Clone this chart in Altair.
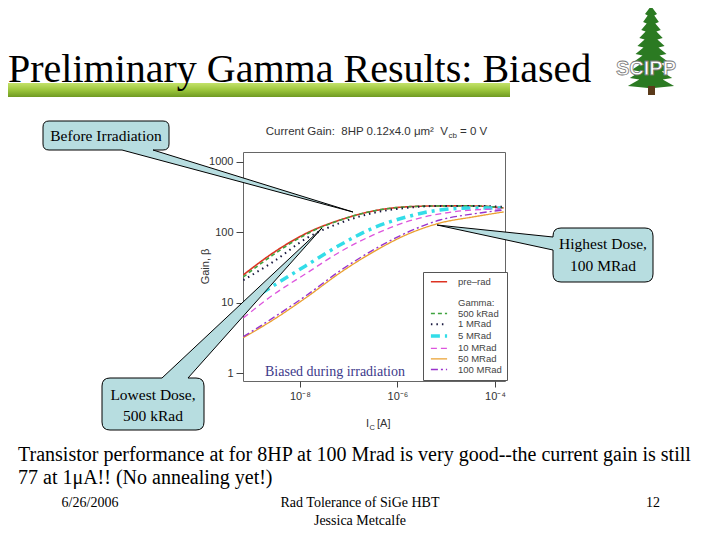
import altair as alt
import pandas as pd

# ---------------- data ----------------
ic_amps = [6.9e-10, 2.8e-9, 1.4e-8, 6.6e-8, 3.2e-7, 1.5e-6, 7.4e-6, 3.6e-5, 1.5e-4]
gain_pre_rad = [24.8, 50.8, 97.7, 149, 200, 229, 236, 236, 221]
gain_500k = [23.2, 47.7, 95, 148, 200, 229, 236, 236, 222]
gain_1M = [21.0, 37.9, 83, 135, 188, 221, 236, 236, 229]
gain_5M = [9.3, 17.3, 34.4, 65.9, 115, 164, 207, 221, 221]
gain_10M = [6.1, 12.9, 26.5, 52.6, 91.6, 140, 182, 207, 214]
gain_50M = [3.2, 5.7, 12.1, 26.5, 52.6, 91.6, 135, 165, 194]
gain_100M = [3.3, 6.1, 12.9, 28.3, 56.1, 97.7, 149, 182, 207]

series_names = ["pre–rad", "500 kRad", "1 MRad", "5 MRad", "10 MRad", "50 MRad", "100 MRad"]
series_values = [gain_pre_rad, gain_500k, gain_1M, gain_5M, gain_10M, gain_50M, gain_100M]
legend_entries = ["pre–rad", " ", "Gamma:", "500 kRad", "1 MRad", "5 MRad",
                  "10 MRad", "50 MRad", "100 MRad"]
x_ticks = [1e-8, 1e-6, 1e-4]
y_ticks = [1, 10, 100, 1000]

# ---------------- styles ----------------
colors = ["#dd3322", "transparent", "transparent", "#3fa33f", "#1a1a40", "#33dde8",
          "#dd55dd", "#eaa030", "#9933cc"]
dashes = [[1, 0], [1, 0], [1, 0], [4, 3], [1.5, 4], [9, 5, 3, 5], [6, 4], [1, 0], [7, 3, 2, 3]]
widths = [1.6, 0, 0, 1.6, 2, 3.5, 1.3, 1.3, 1.4]

rows = []
for name, vals in zip(series_names, series_values):
    for x, g in zip(ic_amps, vals):
        rows.append({"ic": x, "gain": g, "series": name})
df = pd.DataFrame(rows)
one = pd.DataFrame({"k": [0]})

OX, OY = 243, 152          # plot-area origin on the page
W, H = 262, 229
SERIF = "Liberation Serif, Times New Roman, serif"
SANS = "Liberation Sans, Arial, sans-serif"


def px(X):
    return X - OX


def py(Y):
    return Y - OY


def txt(s, X, Y, size, font=SERIF, color="black", align="left", baseline="middle", weight="normal", **kw):
    return alt.Chart(one).mark_text(text=s, font=font, fontSize=size, color=color, align=align,
                                    baseline=baseline, fontWeight=weight, **kw).encode(
        x=alt.value(px(X)), y=alt.value(py(Y)))


def P(x, y):
    return f"{x - OX:.1f} {y - OY:.1f}"


def callout_path(x0, y0, x1, y1, r, side, b1, b2, tip):
    tx, ty = tip
    p = f"M {P(x0 + r, y0)} "
    if side == "top":
        p += f"L {P(b1, y0)} L {P(tx, ty)} L {P(b2, y0)} "
    p += f"L {P(x1 - r, y0)} Q {P(x1, y0)} {P(x1, y0 + r)} "
    if side == "right":
        p += f"L {P(x1, b1)} L {P(tx, ty)} L {P(x1, b2)} "
    p += f"L {P(x1, y1 - r)} Q {P(x1, y1)} {P(x1 - r, y1)} "
    if side == "bottom":
        p += f"L {P(b2, y1)} L {P(tx, ty)} L {P(b1, y1)} "
    p += f"L {P(x0 + r, y1)} Q {P(x0, y1)} {P(x0, y1 - r)} "
    if side == "left":
        p += f"L {P(x0, b2)} L {P(tx, ty)} L {P(x0, b1)} "
    p += f"L {P(x0, y0 + r)} Q {P(x0, y0)} {P(x0 + r, y0)} Z"
    return p


def shape_layer(path, fill, stroke=None, sw=1):
    kw = dict(shape=path, size=4, fill=fill, opacity=1, fillOpacity=1)
    if stroke:
        kw.update(stroke=stroke, strokeWidth=sw, strokeOpacity=1)
    else:
        kw.update(strokeWidth=0)
    return alt.Chart(one).mark_point(**kw).encode(x=alt.value(0), y=alt.value(0))


def tree_path():
    cx, top = 651, 6
    right = []
    for k in range(10):
        yo = top + 8 + 8 * k
        w = 6 + 1.9 * k
        right.append((cx + w, yo))
        right.append((cx + w * 0.55, yo + 1.5))
    right[-1] = (cx + 3, top + 82)
    left = [(2 * cx - x, y) for x, y in reversed(right)]
    p = f"M {P(cx, top)} " + " ".join(f"L {P(x, y)}" for x, y in right + left) + " Z"
    return p


# ---------------- main plot ----------------
leg = alt.Legend(title=None, orient="none", legendX=180, legendY=120,
                 symbolType="M -2.7 0 H 2.7", symbolSize=36, symbolOffset=6,
                 labelFont=SANS, labelFontSize=9.5, labelColor="#444", labelOffset=14,
                 padding=5, rowPadding=-0.4, strokeColor="#555", fillColor="white")

lines = alt.Chart(df).mark_line(interpolate="monotone", clip=True).encode(
    x=alt.X("ic:Q",
            scale=alt.Scale(type="log", domain=[6.8e-10, 1.6e-4], nice=False),
            axis=alt.Axis(values=x_ticks, title=None, grid=False, domain=False,
                          labelExpr="datum.value < 1e-7 ? '10⁻⁸' : (datum.value < 1e-5 ? '10⁻⁶' : '10⁻⁴')",
                          tickSize=6, tickColor="#444", labelPadding=3, labelFont=SANS,
                          labelFontSize=11, labelColor="#333")),
    y=alt.Y("gain:Q",
            scale=alt.Scale(type="log", domain=[0.778, 1372], nice=False),
            axis=alt.Axis(values=y_ticks, format="d", title="Gain, β", grid=False, domain=False,
                          tickSize=7, tickColor="#444", labelPadding=3, labelFont=SANS,
                          labelFontSize=11, labelColor="#333", titleFont=SANS, titleFontSize=11,
                          titleFontWeight="normal", titleColor="#333", titleAngle=-90,
                          titleX=-38, titleY=114, titleAlign="center", titleBaseline="middle")),
    color=alt.Color("series:N", scale=alt.Scale(domain=legend_entries, range=colors), legend=leg),
    strokeDash=alt.StrokeDash("series:N", scale=alt.Scale(domain=legend_entries, range=dashes), legend=leg),
    strokeWidth=alt.StrokeWidth("series:N", scale=alt.Scale(type="ordinal", domain=legend_entries, range=widths),
                                legend=leg),
)

# ---------------- slide decorations ----------------
bar = alt.Chart(one).mark_rect(
    fill=alt.Gradient(gradient="linear", x1=0, x2=0, y1=0, y2=1,
                      stops=[alt.GradientStop(offset=0, color="#c4e26a"),
                             alt.GradientStop(offset=0.5, color="#9cc63c"),
                             alt.GradientStop(offset=1, color="#6f9a22")])
).encode(x=alt.value(px(8)), x2=alt.value(px(510)), y=alt.value(py(83)), y2=alt.value(py(97)))

slide_title = txt("Preliminary Gamma Results: Biased", 8, 82, 40, baseline="alphabetic")

tree = shape_layer(tree_path(), "#2b7a22")
trunk = alt.Chart(one).mark_rect(color="#5a3a1a").encode(
    x=alt.value(px(648)), x2=alt.value(px(655)), y=alt.value(py(86)), y2=alt.value(py(95)))
scipp = txt("SCIPP", 646, 69, 20, font=SANS, color="white", align="center", weight="bold",
            stroke="#777", strokeWidth=0.8)

chart_title = [
    txt("Current Gain:\u00a0\u00a08HP 0.12x4.0 μm²\u00a0\u00a0V", 448, 135, 11.5, font=SANS,
        color="#333", align="right", baseline="alphabetic"),
    txt("cb", 448.5, 138, 8, font=SANS, color="#333", baseline="alphabetic"),
    txt("= 0 V", 460, 135, 11.5, font=SANS, color="#333", baseline="alphabetic"),
]
x_title = [
    txt("I", 366, 427, 11, font=SANS, color="#333", baseline="alphabetic"),
    txt("C", 369.5, 430, 7.5, font=SANS, color="#333", baseline="alphabetic"),
    txt("[A]", 377, 427, 11, font=SANS, color="#333", baseline="alphabetic"),
]

biased = txt("Biased during irradiation", 335, 372, 14, color="#3d3a8a", align="center")

FILL = "#b7dde0"
callouts = [
    shape_layer(callout_path(43, 121, 169, 150, 6, "bottom", 122, 153, (353, 212)), FILL, "black", 1),
    shape_layer(callout_path(553, 228, 653, 282, 8, "left", 237, 250, (437, 225)), FILL, "black", 1),
    shape_layer(callout_path(102, 378, 204, 430, 8, "top", 162, 188, (322, 228)), FILL, "black", 1),
    txt("Before Irradiation", 106, 136, 15.5, align="center"),
    txt("Highest Dose,", 603, 244, 15.5, align="center"),
    txt("100 MRad", 603, 266, 15.5, align="center"),
    txt("Lowest Dose,", 153, 395, 15.5, align="center"),
    txt("500 kRad", 153, 416, 15.5, align="center"),
]

bottom = [
    txt("Transistor performance at for 8HP at 100 Mrad is very good--the current gain is still",
        18, 455, 20),
    txt("77 at 1μA!! (No annealing yet!)", 18, 478, 20),
    txt("6/26/2006", 90, 503, 14, align="center"),
    txt("Rad Tolerance of SiGe HBT", 360, 503, 14, align="center"),
    txt("Jessica Metcalfe", 360, 521, 14, align="center"),
    txt("12", 653, 503, 14, align="center"),
]

chart = alt.layer(
    bar, slide_title, tree, trunk, scipp, *chart_title, *x_title,
    lines, biased, *callouts, *bottom
).properties(
    width=W, height=H, autosize="none",
    padding={"left": 235, "top": 144, "right": 195, "bottom": 148},
    background="white",
).configure_view(stroke="#666", strokeWidth=1)

chart.save("out.html", embed_options={"renderer": "svg", "actions": False})
